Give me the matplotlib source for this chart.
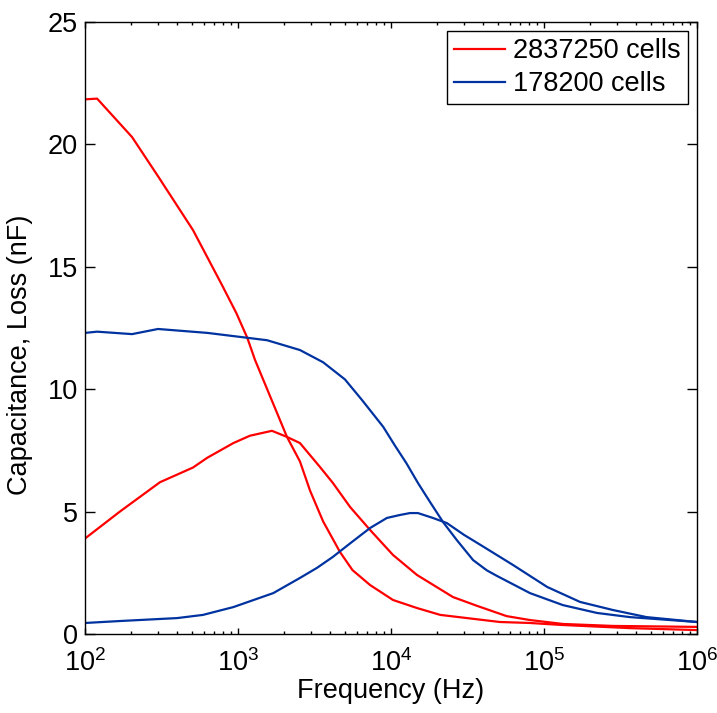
import numpy as np
import matplotlib
matplotlib.use("Agg")
import matplotlib.pyplot as plt
from matplotlib.ticker import LogLocator, NullFormatter, FixedLocator

plt.rcParams['font.family'] = ['Liberation Sans', 'DejaVu Sans']
plt.rcParams['mathtext.fontset'] = 'custom'
plt.rcParams['mathtext.rm'] = 'Liberation Sans'
plt.rcParams['mathtext.it'] = 'Liberation Sans'
plt.rcParams['mathtext.default'] = 'regular'

# 2837250 cells - capacitance
red_cap_f = [100, 120, 203, 300, 508, 785, 977, 1150, 1291, 2090, 2540, 2960, 3600, 4640, 5600,
             7300, 10300, 14800, 21000, 31400, 51500, 81000, 130000, 364000, 1000000]
red_cap_v = [21.84, 21.87, 20.3, 18.7, 16.5, 14.26, 13.1, 12.1, 11.2, 8.05, 7.05, 5.85, 4.6, 3.35, 2.61,
             2.0, 1.39, 1.06, 0.78, 0.65, 0.49, 0.45, 0.37, 0.24, 0.16]
# 2837250 cells - loss
red_loss_f = [100, 169, 309, 508, 630, 933, 1197, 1667, 2090, 2540, 3436, 4170, 5400, 7300, 10300,
              14800, 25400, 36500, 57000, 81000, 133000, 282000, 1000000]
red_loss_v = [3.9, 5.0, 6.2, 6.8, 7.2, 7.8, 8.1, 8.3, 8.05, 7.8, 6.82, 6.17, 5.19, 4.25, 3.23,
              2.41, 1.51, 1.15, 0.73, 0.57, 0.41, 0.33, 0.29]
# 178200 cells - capacitance
blue_cap_f = [100, 120, 203, 300, 630, 1150, 1550, 2540, 3600, 5000, 6460, 8900, 10600, 12600, 15000,
              18000, 21900, 26900, 34400, 42300, 49000, 81000, 133000, 222000, 364000, 1000000]
blue_cap_v = [12.3, 12.35, 12.25, 12.46, 12.3, 12.1, 12.0, 11.6, 11.1, 10.4, 9.56, 8.46, 7.7, 6.98, 6.17,
              5.39, 4.57, 3.84, 3.02, 2.6, 2.38, 1.67, 1.18, 0.86, 0.69, 0.49]
# 178200 cells - loss
blue_loss_f = [100, 169, 400, 590, 933, 1700, 2540, 3280, 4170, 5400, 7300, 9400, 11400, 13300, 15000,
               18800, 23200, 30000, 38200, 51500, 62700, 105000, 172000, 282000, 468000, 1000000]
blue_loss_v = [0.45, 0.53, 0.65, 0.78, 1.1, 1.67, 2.29, 2.7, 3.15, 3.7, 4.33, 4.74, 4.86, 4.94, 4.94,
               4.74, 4.53, 4.05, 3.65, 3.15, 2.82, 1.92, 1.31, 0.98, 0.69, 0.49]

labels = ['2837250 cells', '178200 cells']
red = '#ff0000'
blue = '#0033a0'

fig = plt.figure(figsize=(7.17, 7.13), dpi=100)
ax = fig.add_axes([85/717, 1 - 634/713, 612/717, 612/713])

l1, = ax.plot(red_cap_f, red_cap_v, color=red, lw=1.6, label=labels[0])
ax.plot(red_loss_f, red_loss_v, color=red, lw=1.6)
l2, = ax.plot(blue_cap_f, blue_cap_v, color=blue, lw=1.6, label=labels[1])
ax.plot(blue_loss_f, blue_loss_v, color=blue, lw=1.6)

ax.set_xscale('log')
ax.set_xlim(1e2, 1e6)
ax.set_ylim(0, 25)
ax.yaxis.set_major_locator(FixedLocator([0, 5, 10, 15, 20, 25]))
ax.xaxis.set_major_locator(LogLocator(base=10, numticks=10))
ax.xaxis.set_minor_locator(LogLocator(base=10, subs=np.arange(2, 10), numticks=100))
ax.xaxis.set_minor_formatter(NullFormatter())

ax.tick_params(axis='both', which='both', direction='in', top=True, right=True,
               labelsize=19.5, width=1.0, colors='black')
ax.tick_params(axis='y', which='major', length=7, pad=5)
ax.tick_params(axis='x', which='major', length=4, pad=11)
ax.tick_params(axis='x', which='minor', length=2.5)
for s in ax.spines.values():
    s.set_linewidth(1.0)

ax.set_xlabel('Frequency (Hz)', fontsize=19.5, labelpad=1)
ax.set_ylabel('Capacitance, Loss (nF)', fontsize=19.5)
ax.yaxis.set_label_coords(-0.085, 0.456)

leg = ax.legend(handles=[l1, l2], loc='upper right', fontsize=19.5, frameon=True,
                fancybox=False, edgecolor='black', framealpha=1,
                borderaxespad=0.35, handlelength=1.9, handletextpad=0.3,
                labelspacing=0.25, borderpad=0.25)
leg.get_frame().set_linewidth(1.0)

fig.savefig('out.png', dpi=100)
